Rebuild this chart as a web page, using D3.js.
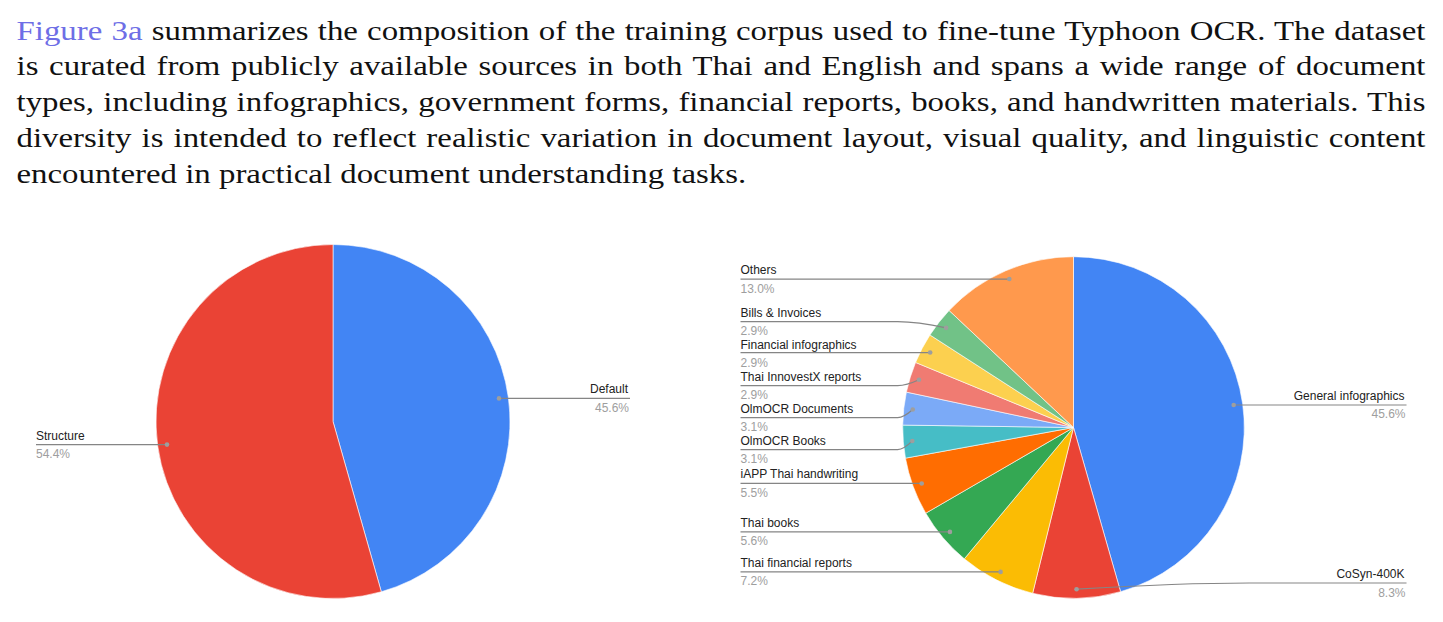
<!DOCTYPE html>
<html>
<head>
<meta charset="utf-8">
<script src="https://cdn.jsdelivr.net/npm/d3@7"></script>
<style>
  html, body { margin: 0; padding: 0; background: #fff; }
  svg { display: block; }
</style>
</head>
<body>
<svg id="chart" width="1443" height="622"></svg>
<script>
// ---------- data ----------
const paragraphLines = [
  "Figure 3a summarizes the composition of the training corpus used to fine-tune Typhoon OCR. The dataset",
  "is curated from publicly available sources in both Thai and English and spans a wide range of document",
  "types, including infographics, government forms, financial reports, books, and handwritten materials. This",
  "diversity is intended to reflect realistic variation in document layout, visual quality, and linguistic content",
  "encountered in practical document understanding tasks."
];
const linkText = "Figure 3a";

const leftCategories = ["Default", "Structure"];
const leftValues = [45.6, 54.4];
const leftColors = ["#4285F4", "#EA4335"];

const rightCategories = [
  "General infographics", "CoSyn-400K", "Thai financial reports", "Thai books",
  "iAPP Thai handwriting", "OlmOCR Books", "OlmOCR Documents", "Thai InnovestX reports",
  "Financial infographics", "Bills & Invoices", "Others"
];
const rightValues = [45.6, 8.3, 7.2, 5.6, 5.5, 3.1, 3.1, 2.9, 2.9, 2.9, 13.0];
const rightColors = [
  "#4285F4", "#EA4335", "#FBBC04", "#34A853", "#FF6D01", "#46BDC6",
  "#7BAAF7", "#F07B72", "#FCD04F", "#71C287", "#FF994D"
];

// ---------- paragraph ----------
const svg = d3.select("#chart");
const textLeft = 16.5, textRight = 1425.5, firstBaseline = 39.5, lineGap = 35.9;
const lastLineWidth = 730;
const texts = paragraphLines.map((line, i) => {
  const t = svg.append("text")
    .attr("x", 0).attr("y", 0)
    .attr("font-family", "'Liberation Serif', 'DejaVu Serif', serif")
    .attr("font-size", 28)
    .attr("fill", "#111");
  if (line.startsWith(linkText)) {
    t.append("tspan").attr("fill", "#6e6ee6").text(linkText);
    t.append("tspan").text(line.slice(linkText.length));
  } else {
    t.text(line);
  }
  return t;
});
const sx = lastLineWidth / texts[texts.length - 1].node().getComputedTextLength();
texts.forEach((t, i) => {
  t.attr("transform", `translate(${textLeft},${firstBaseline + i * lineGap}) scale(${sx},1)`);
  if (i < paragraphLines.length - 1) {
    const natural = t.node().getComputedTextLength();
    const spaces = (paragraphLines[i].match(/ /g) || []).length;
    const extra = ((textRight - textLeft) / sx - natural) / spaces;
    t.attr("word-spacing", extra);
  }
});

// ---------- pies ----------
function drawPie(cfg) {
  const { cats, vals, colors, cx, cy, r, reach, maxY, bias } = cfg;
  const g = svg.append("g");
  const pie = d3.pie().sort(null).value(d => d.v);
  const data = pie(cats.map((c, i) => ({ c, v: vals[i], col: colors[i] })));
  const arc = d3.arc().innerRadius(0).outerRadius(r);

  g.selectAll("path.slice").data(data).join("path")
    .attr("class", "slice")
    .attr("transform", `translate(${cx},${cy})`)
    .attr("d", arc)
    .attr("fill", d => d.data.col)
    .attr("stroke", "#fff")
    .attr("stroke-width", 0.6);

  const rho = r * 0.947;
  const items = data.map(d => {
    const a = (d.startAngle + d.endAngle) / 2;
    const dx = cx + rho * Math.sin(a), dy = cy - rho * Math.cos(a);
    return { d, a, dx, dy, side: Math.sin(a) >= 0 ? 1 : -1, ly: dy };
  });

  const S = 32;
  [1, -1].forEach(side => {
    const list = items.filter(it => it.side === side).sort((p, q) => p.dy - q.dy);
    let clusters = [];
    list.forEach(it => {
      clusters.push({ items: [it], start: Math.min(it.dy, maxY) });
      while (clusters.length > 1) {
        const b = clusters[clusters.length - 1], a = clusters[clusters.length - 2];
        if (a.start + a.items.length * S > b.start) {
          const merged = a.items.concat(b.items);
          const mean = d3.mean(merged, m => m.dy);
          let start = mean - (merged.length - 1) * S / 2 + bias;
          start = Math.min(start, maxY - (merged.length - 1) * S);
          clusters.splice(clusters.length - 2, 2, { items: merged, start });
        } else break;
      }
    });
    clusters.forEach(cl => cl.items.forEach((it, k) => { it.ly = cl.start + k * S; }));
  });

  const lab = g.selectAll("g.lab").data(items).join("g").attr("class", "lab");
  lab.append("path")
    .attr("fill", "none")
    .attr("stroke", "#858585")
    .attr("stroke-width", 1.2)
    .attr("d", it => {
      const endX = cx + it.side * reach;
      if (Math.abs(it.ly - it.dy) < 1.5) {
        return `M${it.dx},${it.dy}L${endX},${it.dy}`;
      }
      const elbowX = cx + it.side * (r + 5);
      const ctrlX = it.dx + (elbowX - it.dx) * 0.6;
      return `M${it.dx},${it.dy}Q${ctrlX},${it.ly} ${elbowX},${it.ly}L${endX},${it.ly}`;
    });
  lab.append("circle")
    .attr("cx", it => it.dx)
    .attr("cy", it => it.dy)
    .attr("r", 2.3)
    .attr("fill", "#9e9e9e");
  lab.append("text")
    .attr("x", it => cx + it.side * (reach - (it.side > 0 ? 2 : 0)))
    .attr("y", it => it.ly - 5)
    .attr("text-anchor", it => it.side > 0 ? "end" : "start")
    .attr("font-family", "'Liberation Sans', Arial, sans-serif")
    .attr("font-size", 12)
    .attr("fill", "#222")
    .text(it => it.d.data.c);
  lab.append("text")
    .attr("x", it => cx + it.side * (reach - (it.side > 0 ? 1 : 0)))
    .attr("y", it => it.ly + 13.5)
    .attr("text-anchor", it => it.side > 0 ? "end" : "start")
    .attr("font-family", "'Liberation Sans', Arial, sans-serif")
    .attr("font-size", 12)
    .attr("fill", "#9e9e9e")
    .text(it => d3.format(".1f")(it.d.data.v) + "%");
}

drawPie({ cats: leftCategories, vals: leftValues, colors: leftColors,
          cx: 333, cy: 421.5, r: 177, reach: 297, maxY: 583, bias: 0 });
drawPie({ cats: rightCategories, vals: rightValues, colors: rightColors,
          cx: 1073.5, cy: 427.5, r: 170.8, reach: 333, maxY: 583, bias: 3.5 });
</script>
</body>
</html>
